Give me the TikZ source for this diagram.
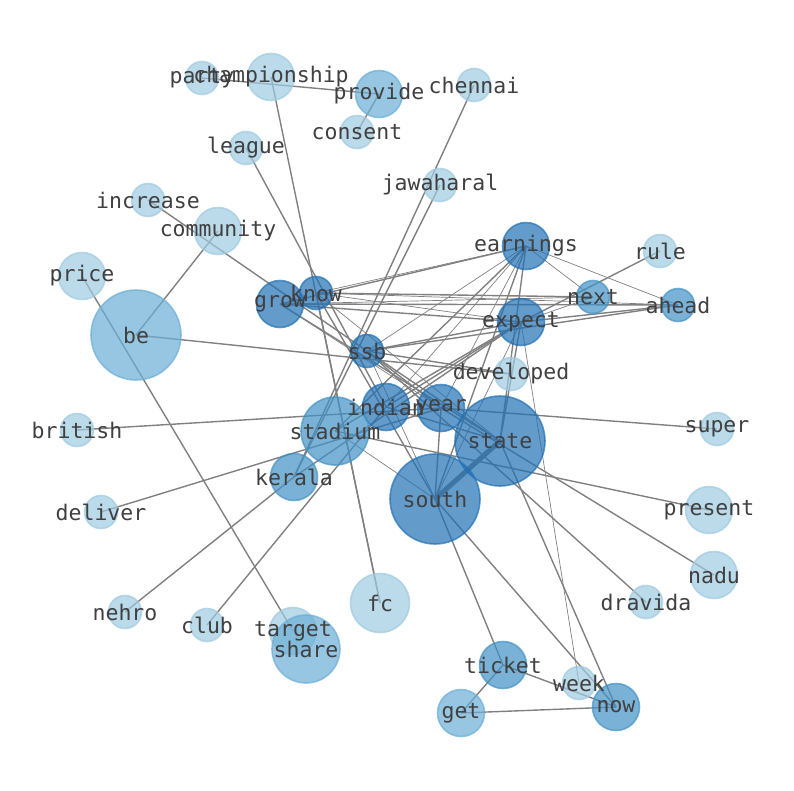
\documentclass[tikz,border=0pt]{standalone}
\usepackage{fontspec}
\usetikzlibrary{backgrounds}
\newfontfamily\wordfont{DejaVu Sans Mono}
\definecolor{blueA}{HTML}{9ECAE1}
\definecolor{blueB}{HTML}{6BAED6}
\definecolor{blueC}{HTML}{4292C6}
\definecolor{blueD}{HTML}{2171B5}

\begin{document}
\begin{tikzpicture}
	[x=1pt, y=-1pt,
	 word/.style={circle, line width=1.6pt, opacity=0.7, inner sep=0pt},
	 pale/.style={word, fill=blueA, draw=blueA},
	 soft/.style={word, fill=blueB, draw=blueB},
	 deep/.style={word, fill=blueC, draw=blueC},
	 hub/.style={word, fill=blueD, draw=blueD},
	 sizeS/.style={minimum size=33},
	 sizeM/.style={minimum size=47},
	 sizeL/.style={minimum size=59},
	 sizeXL/.style={minimum size=68},
	 sizeXXL/.style={minimum size=90},
	 link/.style={draw=black!50, line width=1.4pt},
	 faint/.style={line width=0.7pt},
	 bold/.style={line width=5pt},
	 tag/.style={font=\wordfont\fontsize{21.5}{24}\selectfont, text=black!75, inner sep=0pt}]
   \useasboundingbox (0,0) rectangle (794,790);

   % words, placed as in the layout
   \node[pale, sizeS] (party) at (202,78) {};
   \node[pale, sizeM] (championship) at (271,77) {};
   \node[soft, sizeM] (provide) at (379,94) {};
   \node[pale, sizeS] (chennai) at (474,85) {};
   \node[pale, sizeS] (consent) at (357,132) {};
   \node[pale, sizeS] (league) at (246,148) {};
   \node[pale, sizeS] (jawaharal) at (440,185) {};
   \node[pale, sizeS] (increase) at (148,200) {};
   \node[pale, sizeM] (community) at (218,231) {};
   \node[pale, sizeM] (price) at (82,276) {};
   \node[soft, sizeXXL] (be) at (136,335) {};
   \node[hub, sizeM] (grow) at (280,304) {};
   \node[hub, sizeS] (know) at (316,293) {};
   \node[hub, sizeM] (earnings) at (526,246) {};
   \node[pale, sizeS] (rule) at (660,251) {};
   \node[deep, sizeS] (next) at (593,297) {};
   \node[deep, sizeS] (ahead) at (678,305) {};
   \node[hub, sizeM] (expect) at (521,322) {};
   \node[hub, sizeS] (ssb) at (367,351) {};
   \node[pale, sizeS] (developed) at (511,374) {};
   \node[hub, sizeM] (indian) at (386,407) {};
   \node[hub, sizeM] (year) at (441,408) {};
   \node[deep, sizeXL] (stadium) at (335,431) {};
   \node[hub, sizeXXL] (state) at (500,441) {};
   \node[pale, sizeS] (british) at (77,430) {};
   \node[pale, sizeS] (super) at (717,429) {};
   \node[deep, sizeM] (kerala) at (294,477) {};
   \node[hub, sizeXXL] (south) at (435,499) {};
   \node[pale, sizeS] (deliver) at (101,512) {};
   \node[pale, sizeM] (present) at (709,510) {};
   \node[pale, sizeM] (nadu) at (714,575) {};
   \node[pale, sizeS] (dravida) at (646,602) {};
   \node[pale, sizeS] (nehro) at (125,612) {};
   \node[pale, sizeS] (club) at (207,625) {};
   \node[pale, sizeL] (fc) at (380,603) {};
   \node[pale, sizeM] (target) at (293,631) {};
   \node[soft, sizeXL] (share) at (306,649) {};
   \node[deep, sizeM] (ticket) at (503,665) {};
   \node[pale, sizeS] (week) at (579,683) {};
   \node[soft, sizeM] (get) at (461,713) {};
   \node[deep, sizeM] (now) at (616,707) {};

   % the words themselves, above every circle
   \foreach \w in {party, championship, provide, chennai, consent, league,
      jawaharal, increase, community, price, be, grow, know, earnings, rule,
      next, ahead, expect, ssb, developed, indian, year, stadium, state,
      british, super, kerala, south, deliver, present, nadu, dravida, nehro,
      club, fc, target, share, ticket, week, get, now}
      \node[tag] at (\w) {\w};

   \begin{scope}[on background layer]
   \path[link]
    (party.center) edge (provide.center)
    (consent.center) edge (provide.center)
    (championship.center) edge (fc.center)
    (know.center) edge (fc.center)
    (league.center) edge (indian.center)
    (chennai.center) edge (kerala.center)
    (jawaharal.center) edge (kerala.center)
    (increase.center) edge (ssb.center)
    (community.center) edge (be.center)
    (price.center) edge (target.center)
    (be.center) edge (developed.center)
    (british.center) edge (year.center)
    (deliver.center) edge (year.center)
    (nehro.center) edge (kerala.center)
    (club.center) edge (indian.center)
    (super.center) edge (year.center)
    (present.center) edge (stadium.center)
    (nadu.center) edge (year.center)
    (dravida.center) edge (ssb.center)
    (rule.center) edge (expect.center)
    (week.center) edge [faint] (expect.center)
    (ticket.center) edge (south.center)
           edge (now.center)
           edge (get.center)
    (get.center) edge (now.center)
    (now.center) edge (south.center)
           edge (state.center)
    (state.center) edge [bold] (south.center)
    (know.center) edge [faint] (earnings.center)
           edge (next.center)
           edge [faint] (ahead.center)
           edge [faint] (expect.center)
           edge [faint] (state.center)
           edge (south.center)
    (grow.center) edge (earnings.center)
           edge [faint] (next.center)
           edge (ahead.center)
           edge (expect.center)
           edge (state.center)
           edge [faint] (year.center)
    (ssb.center) edge [faint] (earnings.center)
           edge (expect.center)
           edge (ahead.center)
           edge (developed.center)
           edge (state.center)
           edge [faint] (south.center)
           edge (year.center)
    (earnings.center) edge [faint] (next.center)
           edge [faint] (ahead.center)
           edge (south.center)
           edge (state.center)
           edge [faint] (year.center)
           edge [faint] (indian.center)
           edge (stadium.center)
    (expect.center) edge [faint] (next.center)
           edge (ahead.center)
           edge (indian.center)
           edge (stadium.center)
           edge [faint] (south.center)
           edge (state.center)
           edge (kerala.center)
    (indian.center) edge (state.center)
    (year.center) edge (south.center)
    (stadium.center) edge [faint] (south.center);
   \end{scope}
\end{tikzpicture}
\end{document}
